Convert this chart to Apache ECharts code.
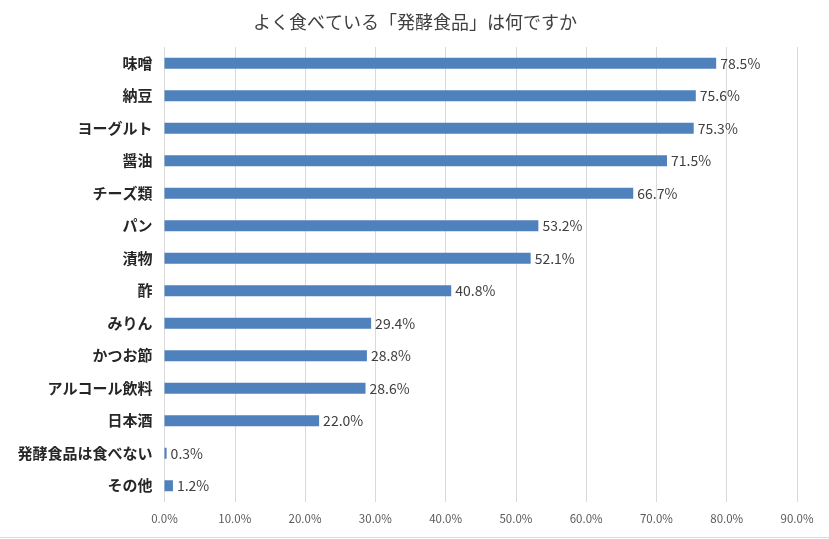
<!DOCTYPE html>
<html><head><meta charset="utf-8">
<script src="https://cdn.jsdelivr.net/npm/echarts@6/dist/echarts.min.js"></script>
<style>html,body{margin:0;padding:0;background:#fff}#c{width:829px;height:539px}</style>
</head><body><div id="c"></div>
<script>
const titleText = 'よく食べている「発酵食品」は何ですか';
const categories = ['味噌','納豆','ヨーグルト','醤油','チーズ類','パン','漬物','酢','みりん','かつお節','アルコール飲料','日本酒','発酵食品は食べない','その他'];
const values = [78.5,75.6,75.3,71.5,66.7,53.2,52.1,40.8,29.4,28.8,28.6,22.0,0.3,1.2];
const xTicks = {min:0, max:90, interval:10};

const font = '"Noto Sans CJK JP", sans-serif';
const chart = echarts.init(document.getElementById('c'));
chart.setOption({
  backgroundColor:'#fff',
  animation:false,
  title:{text:titleText, left:410, top:8, textAlign:'center',
    textStyle:{fontFamily:font, fontSize:18, fontWeight:'normal', color:'#404040'}},
  grid:{left:164.5, right:32, top:47, bottom:37, containLabel:false},
  xAxis:{type:'value', min:xTicks.min, max:xTicks.max, interval:xTicks.interval,
    axisLine:{show:false}, axisTick:{show:false},
    splitLine:{show:true, lineStyle:{color:'#d9d9d9', width:1}},
    axisLabel:{margin:11, fontFamily:font, fontSize:11.5, color:'#595959',
      formatter:v=>v.toFixed(1)+'%'}},
  yAxis:{type:'category', data:categories, inverse:true,
    axisLine:{show:false}, axisTick:{show:false},
    axisLabel:{margin:12, fontFamily:font, fontSize:15, fontWeight:'bold', color:'#262626'}},
  series:[{type:'bar', data:values, barWidth:11,
    itemStyle:{color:'#4f81bd'},
    label:{show:true, position:'right', distance:4, fontFamily:font, fontSize:14, color:'#404040',
      formatter:p=>p.value.toFixed(1)+'%'}}],
  graphic:[{type:'line', shape:{x1:0,y1:537.5,x2:829,y2:537.5}, style:{stroke:'#d9d9d9', lineWidth:1}}]
});
</script></body></html>
